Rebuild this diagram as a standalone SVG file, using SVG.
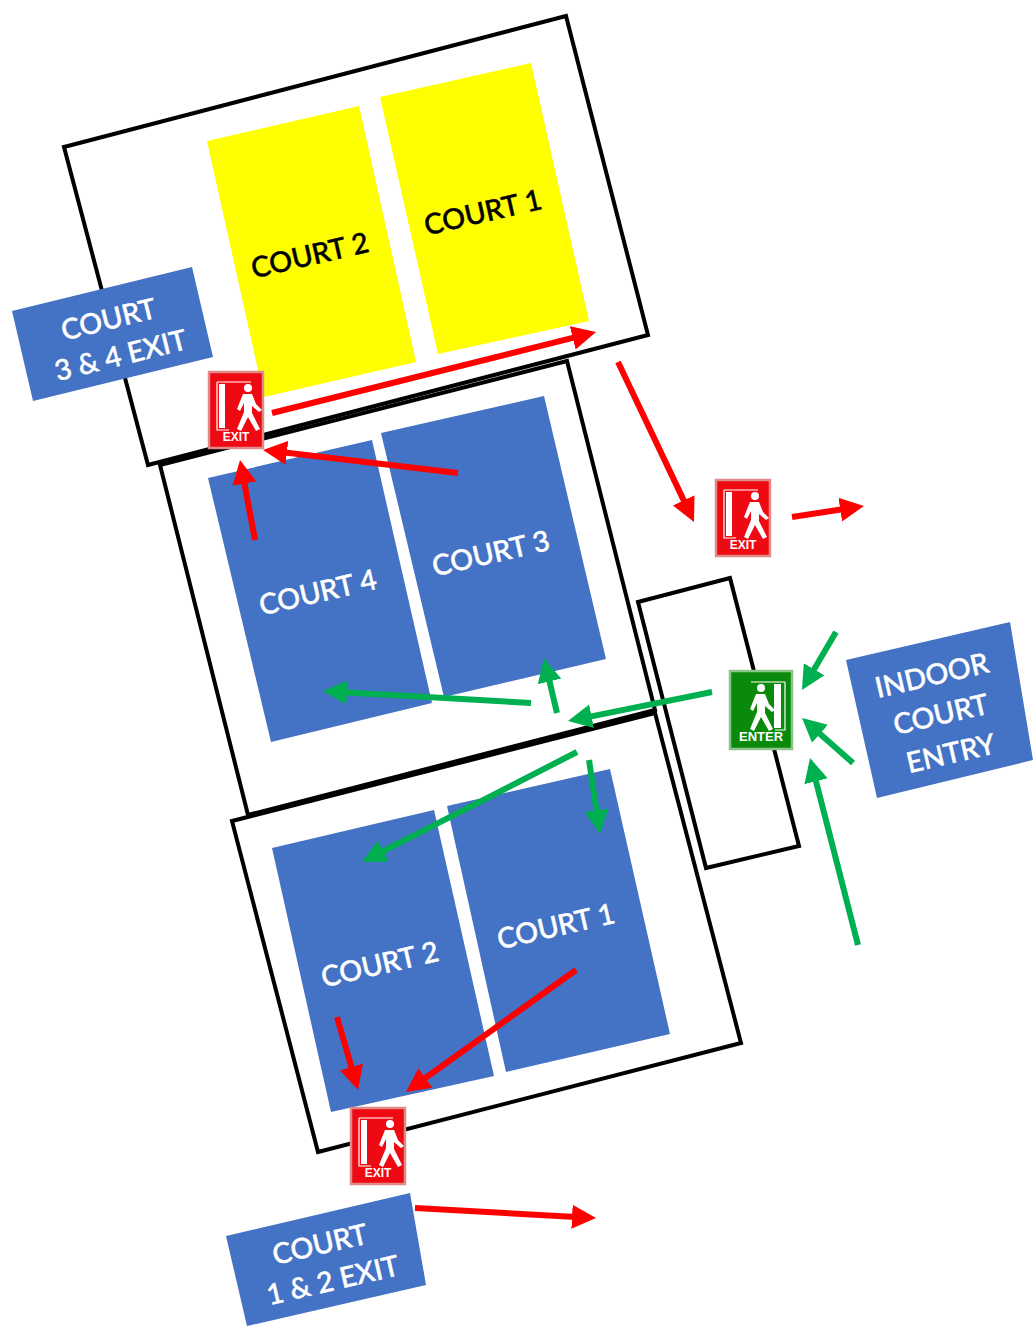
<svg xmlns="http://www.w3.org/2000/svg" width="1033" height="1326" viewBox="0 0 1033 1326">
<style>
.hall{fill:none;stroke:#000;stroke-width:4}
.blue{fill:#4472c4}
.yel{fill:#ff0}
.t{font-family:"Lato","Carlito","Open Sans",sans-serif;font-size:28.5px;font-weight:500;text-anchor:middle;stroke-width:.45}
.w{fill:#fff;stroke:#fff}
.k{fill:#000;stroke:#000}
.r{stroke:#f00;stroke-width:6;fill:none;marker-end:url(#ar)}
.g{stroke:#00b050;stroke-width:6;fill:none;marker-end:url(#ag)}
.sign{font-family:"Liberation Sans",Arial,sans-serif;font-weight:700;fill:#fff;text-anchor:middle}
</style>
<defs>
<marker id="ar" markerUnits="userSpaceOnUse" markerWidth="26" markerHeight="26" refX="4" refY="13" orient="auto"><path d="M0 1L24 13L0 25Z" fill="#f00"/></marker>
<marker id="ag" markerUnits="userSpaceOnUse" markerWidth="26" markerHeight="26" refX="4" refY="13" orient="auto"><path d="M0 1L24 13L0 25Z" fill="#00b050"/></marker>
<g id="walker">
<circle cx="7" cy="-21" r="4" fill="#fff"/>
<path d="M2-15L11-15L15-5L21 1L18 3L11-3L11 4L19 20L15 22L7 8L0 22L-4 20L3 3L3-6L-1 2L-4 0Z" fill="#fff"/>
</g>
<g id="exitsign">
<rect x="-27" y="-38" width="54" height="76" fill="#ee0a12" stroke="#e08a8a" stroke-width="2.5"/>
<path d="M-19-28H15M-19-28V20H-7" fill="none" stroke="#fff" stroke-width="1.2"/>
<rect x="-17" y="-26" width="6" height="44" fill="#fff"/>
<use href="#walker" transform="translate(5 -1)"/>
<text class="sign" x="0" y="31" font-size="12">EXIT</text>
</g>
</defs>

<g id="hall-top"><polygon class="hall" points="64,147 566,16 648,335 148,465"/></g>
<g id="hall-middle"><polygon class="hall" points="160,465 567,361 655,710 248,815"/></g>
<g id="hall-bottom"><polygon class="hall" points="232,821 655,713 741,1043 318,1152"/></g>
<g id="entry-hall"><polygon class="hall" points="638,602 730,578 799,846 706,868"/></g>

<g id="court-top-2"><polygon class="yel" points="207,141 359,106 416,362 264,397"/>
<text class="t k" transform="translate(312 265) rotate(-13)">COURT 2</text></g>
<g id="court-top-1"><polygon class="yel" points="380,97 531,63 589,321 438,354"/>
<text class="t k" transform="translate(485 222) rotate(-13)">COURT 1</text></g>
<g id="court-4"><polygon class="blue" points="208,478 372,440 432,703 271,742"/>
<text class="t w" transform="translate(320 602) rotate(-13)">COURT 4</text></g>
<g id="court-3"><polygon class="blue" points="381,433 544,396 606,659 444,697"/>
<text class="t w" transform="translate(493 563) rotate(-13)">COURT 3</text></g>
<g id="court-2"><polygon class="blue" points="272,848 434,810 494,1076 331,1112"/>
<text class="t w" transform="translate(382 974) rotate(-13)">COURT 2</text></g>
<g id="court-1"><polygon class="blue" points="447,806 610,769 670,1034 506,1072"/>
<text class="t w" transform="translate(558 936) rotate(-13)">COURT 1</text></g>

<g id="label-3-4-exit"><polygon class="blue" points="12,311 192,267 213,357 33,401"/>
<text class="t w" transform="translate(111 329) rotate(-14)">COURT</text>
<text class="t w" transform="translate(123 365) rotate(-14)">3 &amp; 4 EXIT</text></g>
<g id="label-indoor"><polygon class="blue" points="846,660 1010,622 1033,760 877,798"/>
<text class="t w" transform="translate(934 685) rotate(-13)">INDOOR</text>
<text class="t w" transform="translate(943 724) rotate(-13)">COURT</text>
<text class="t w" transform="translate(953 763) rotate(-13)">ENTRY</text></g>
<g id="label-1-2-exit"><polygon class="blue" points="226,1236 410,1193 426,1285 247,1326"/>
<text class="t w" transform="translate(322 1254) rotate(-13)">COURT</text>
<text class="t w" transform="translate(335 1290) rotate(-13)">1 &amp; 2 EXIT</text></g>

<g id="connectors">
<path class="r" d="M272 413L576.6 336.9"/>
<path class="r" d="M618 362L685.4 503.9"/>
<path class="r" d="M792 517L844.2 509"/>
<path class="r" d="M458 473L282.9 452.3"/>
<path class="r" d="M255 540L243.7 479.7"/>
<path class="r" d="M337 1017L352.5 1070.8"/>
<path class="r" d="M576 970L422.2 1080.3"/>
<path class="r" d="M415 1208L576 1216.9"/>
<path class="g" d="M836 632L812.1 672.7"/>
<path class="g" d="M853 763L817 731.2"/>
<path class="g" d="M858 945L815 777.4"/>
<path class="g" d="M712 692L587.6 717.1"/>
<path class="g" d="M531 703L343 692.2"/>
<path class="g" d="M557 713L548.6 677.5"/>
<path class="g" d="M577 752L379.8 852.9"/>
<path class="g" d="M589 760L597.1 814.2"/>
</g>

<g id="exit-top" transform="translate(236 410)"><use href="#exitsign"/></g>
<g id="exit-right" transform="translate(743 518)"><use href="#exitsign"/></g>
<g id="exit-bottom" transform="translate(378 1146)"><use href="#exitsign"/></g>
<g id="enter-sign" transform="translate(761 710)">
<rect x="-31" y="-39" width="62" height="78" fill="#0a8a0a" stroke="#8cc48c" stroke-width="2.5"/>
<path d="M24-28H-10M24-28V20H14" fill="none" stroke="#fff" stroke-width="1.2"/>
<rect x="13" y="-26" width="7" height="44" fill="#fff"/>
<use href="#walker" transform="translate(-7 -1)"/>
<text class="sign" x="0" y="31" font-size="13">ENTER</text>
</g>
</svg>
